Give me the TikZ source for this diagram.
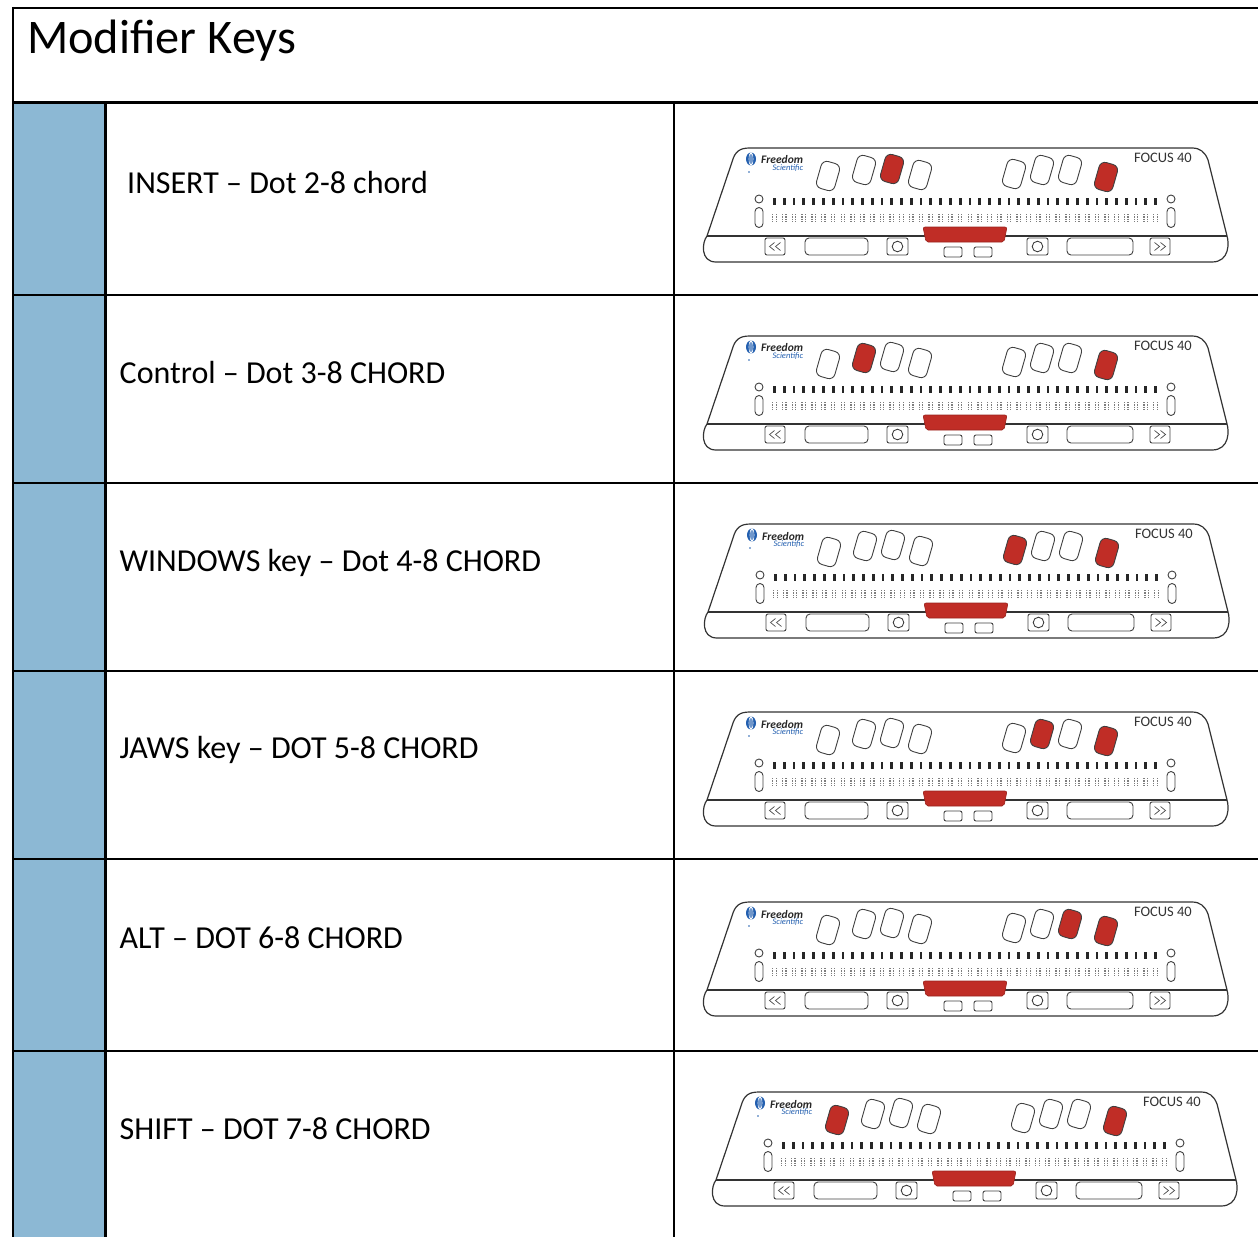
\documentclass[tikz,border=0pt]{standalone}
\usepackage{fontspec}
\setmainfont{Carlito}
\usepackage{xcolor}
\usetikzlibrary{positioning}

\definecolor{cellblue}{RGB}{140,184,212}
\definecolor{keyred}{RGB}{192,45,38}
\definecolor{logoblue}{RGB}{35,95,175}
\definecolor{dotgray}{RGB}{125,125,125}

\tikzset{
    grid/.style={line width=2.4pt, black},
    body/.style={line width=1.2pt, black!80},
    keycap/.style={draw=black!75, line width=0.9pt, rounded corners=6pt, minimum width=19pt, minimum height=28pt, rotate=-16, inner sep=0pt},
    pad/.style={draw=black!75, line width=0.9pt, rounded corners=2pt, inner sep=0pt, minimum height=17pt},
    lamp/.style={draw=black!75, line width=0.9pt, inner sep=0pt},
    chevron/.style={black!70, line width=0.7pt},
    headtext/.style={anchor=base west, inner sep=0pt, font=\fontsize{48.3}{56}\selectfont},
    rowtext/.style={anchor=base west, inner sep=0pt, font=\fontsize{32}{38}\selectfont}
}

% one Focus 40 display: #1,#2 top left corner, #3 red key (1-8), #4 name prefix
\newcommand{\focusdisplay}[4]{%
  \begin{scope}[shift={(#1,#2)}]
    % housing
    \draw[body] (4,88) -- (29,14) .. controls (32,3) and (37,0) .. (47,0) -- (489,0)
        .. controls (497,0) and (502,4) .. (505,12) -- (524,88)
        .. controls (526,94) and (527,114) .. (509,114) -- (13,114)
        .. controls (-3,114) and (-1,94) .. (4,88) -- cycle;
    \draw[body] (4,88) -- (524,88);
    % logo
    \fill[logoblue] (48,11) ellipse (5pt and 6.5pt);
    \draw[white, line width=0.6pt] (48,11) ellipse (2pt and 6.5pt) (48,4.5) -- (48,17.5);
    \fill[logoblue] (46,24) circle (0.8pt);
    \node[anchor=west, inner sep=0pt, font=\fontsize{11.5}{12}\selectfont\bfseries\itshape, text=black!85] (#4fr) at (58,12) {Freedom};
    \node[anchor=north east, inner sep=0pt, font=\fontsize{8.5}{9}\selectfont\itshape, text=logoblue] (#4sc) at ([yshift=-0.5pt]#4fr.south east) {Scientific};
    \node[anchor=east, inner sep=0pt, font=\fontsize{14.5}{16}\selectfont, text=black!80] (#4model) at (489,10) {FOCUS 40};
    % braille keys
    \foreach \kx/\ky [count=\i] in {125/28,161/22,189/21,217/27,311/26,339/22,367/22,403/29} {
      \ifnum\i=#3\relax\def\kfill{keyred}\else\ifnum\i=8\relax\def\kfill{keyred}\else\def\kfill{white}\fi\fi
      \node[keycap, fill=\kfill] (#4k\i) at (\kx,\ky) {};
    }
    % status lights
    \node[lamp, circle, minimum size=8pt] (#4sl) at (56,51) {};
    \node[lamp, rounded corners=4pt, minimum width=8pt, minimum height=20pt] (#4ol) at (56,69.5) {};
    \node[lamp, circle, minimum size=8pt] (#4sr) at (468,51) {};
    \node[lamp, rounded corners=4pt, minimum width=8pt, minimum height=20pt] (#4or) at (468,69.5) {};
    % routing keys and cells
    \foreach \c in {0,...,39} {
      \pgfmathsetmacro\cx{71.5+\c*9.77}
      \fill[black!85] (\cx-1.4,50) rectangle (\cx+1.4,57);
      \draw[dotgray, line width=1.3pt, dash pattern=on 1.3pt off 1pt] (\cx-1.7,66) -- (\cx-1.7,75) (\cx+1.7,66) -- (\cx+1.7,75);
    }
    % space bar
    \draw[fill=keyred, draw=keyred!80!black, line width=0.6pt, rounded corners=2pt] (220,79) -- (304,79) -- (301,94) -- (223,94) -- cycle;
    % front buttons
    \node[pad, minimum width=20pt] (#4prev) at (72,98.5) {};
    \draw[chevron] ([xshift=-0.5pt]#4prev.center) ++(0,-4) -- ++(-5,4) -- ++(5,4);
    \draw[chevron] ([xshift=5.5pt]#4prev.center) ++(0,-4) -- ++(-5,4) -- ++(5,4);
    \node[pad, minimum width=63pt, rounded corners=4pt] (#4lrock) at (133.5,98.5) {};
    \node[pad, minimum width=21pt] (#4lsel) at (194.5,98.5) {};
    \draw[black!75, line width=0.9pt] (#4lsel.center) circle (5.3pt);
    \node[pad, minimum width=18pt, minimum height=10pt] (#4la) at (250,104) {};
    \node[pad, minimum width=18pt, minimum height=10pt] (#4ra) at (280,104) {};
    \node[pad, minimum width=21pt] (#4rsel) at (334.5,98.5) {};
    \draw[black!75, line width=0.9pt] (#4rsel.center) circle (5.3pt);
    \node[pad, minimum width=66pt, rounded corners=4pt] (#4rrock) at (397,98.5) {};
    \node[pad, minimum width=20pt] (#4next) at (457,98.5) {};
    \draw[chevron] ([xshift=-5.5pt]#4next.center) ++(0,-4) -- ++(5,4) -- ++(-5,4);
    \draw[chevron] ([xshift=0.5pt]#4next.center) ++(0,-4) -- ++(5,4) -- ++(-5,4);
  \end{scope}}

\begin{document}
\begin{tikzpicture}[x=1pt, y=-1pt]
    \useasboundingbox (0,0) rectangle (1258,1237);

    % table
    \fill[cellblue] (13,102.5) rectangle (105.5,1237);
    \draw[grid] (13,8) -- (1258,8);
    \draw[grid] (13,6.8) -- (13,1237);
    \foreach \hy in {102.5,295,483,671,859,1051}
        \draw[grid] (13,\hy) -- (1258,\hy);
    \draw[grid] (105.5,102.5) -- (105.5,1237);
    \draw[grid] (674,102.5) -- (674,1237);

    \node[headtext] (title) at (27,53) {Modifier Keys};

    \node[rowtext] (insert) at (127,193) {INSERT – Dot 2-8 chord};
    \node[rowtext] (control) at (119.5,383) {Control – Dot 3-8 CHORD};
    \node[rowtext] (windows) at (119.5,571) {WINDOWS key – Dot 4-8 CHORD};
    \node[rowtext] (jaws) at (119.5,758) {JAWS key – DOT 5-8 CHORD};
    \node[rowtext] (alt) at (119.5,948) {ALT – DOT 6-8 CHORD};
    \node[rowtext] (shift) at (119.5,1139) {SHIFT – DOT 7-8 CHORD};

    \focusdisplay{703}{148}{3}{a}
    \focusdisplay{703}{336}{2}{b}
    \focusdisplay{704}{524}{5}{c}
    \focusdisplay{703}{712}{6}{d}
    \focusdisplay{703}{902}{7}{e}
    \focusdisplay{712}{1092}{1}{f}
\end{tikzpicture}
\end{document}
